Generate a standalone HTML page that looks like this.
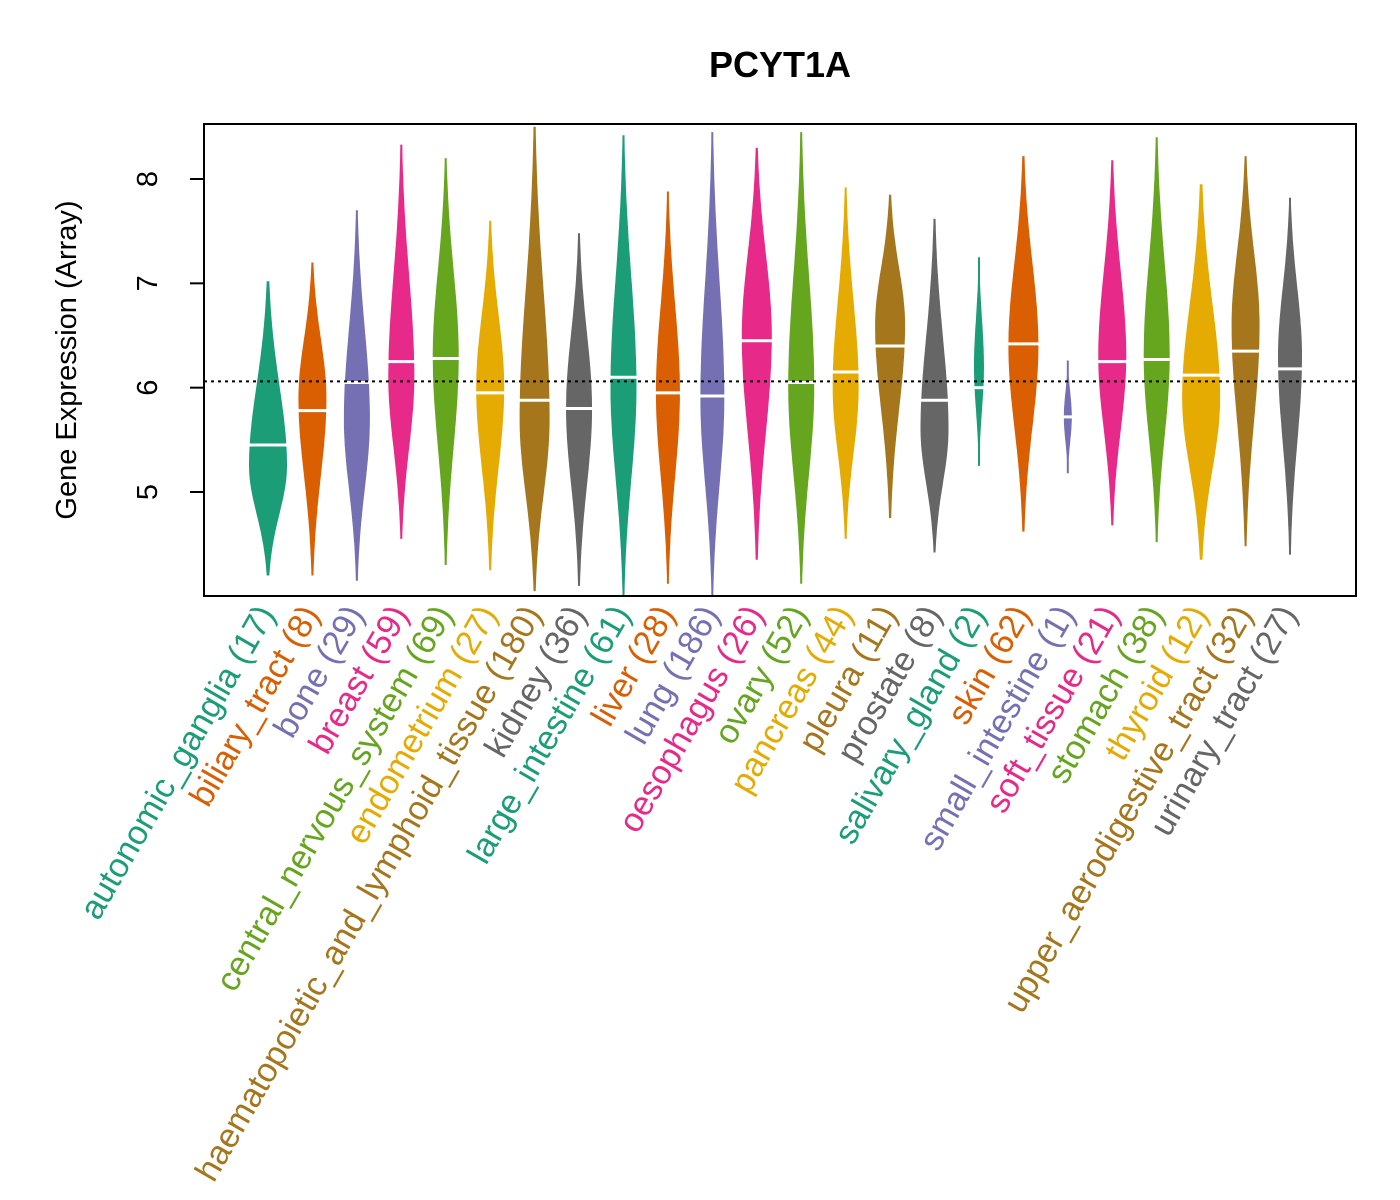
<!DOCTYPE html>
<html><head><meta charset="utf-8"><style>body{margin:0;background:#fff}svg{display:block}</style></head>
<body>
<svg id="chart" width="1400" height="1200" font-family="Liberation Sans, Arial, sans-serif">
<rect width="1400" height="1200" fill="#fff"/>
<text x="780" y="77" text-anchor="middle" font-size="36" font-weight="bold">PCYT1A</text>
<text transform="translate(76,360) rotate(-90)" text-anchor="middle" font-size="29">Gene Expression (Array)</text>
<g id="violins"></g>
<rect x="204" y="124" width="1152" height="472" fill="none" stroke="#000" stroke-width="2"/>
<g id="axis"></g>
<g id="labels"></g>
</svg>
<script>
const categories=["autonomic_ganglia","biliary_tract","bone","breast","central_nervous_system","endometrium","haematopoietic_and_lymphoid_tissue","kidney","large_intestine","liver","lung","oesophagus","ovary","pancreas","pleura","prostate","salivary_gland","skin","small_intestine","soft_tissue","stomach","thyroid","upper_aerodigestive_tract","urinary_tract"];
const counts=[17,8,29,59,69,27,180,36,61,28,186,26,52,44,11,8,2,62,1,21,38,12,32,27];
const mins=[4.2,4.2,4.15,4.55,4.3,4.25,4.05,4.1,4.0,4.12,4.0,4.35,4.12,4.55,4.75,4.42,5.25,4.62,5.18,4.68,4.52,4.35,4.48,4.4];
const maxs=[7.02,7.2,7.7,8.33,8.2,7.6,8.5,7.48,8.42,7.88,8.45,8.3,8.45,7.92,7.85,7.62,7.25,8.22,6.26,8.18,8.4,7.95,8.22,7.82];
const medians=[5.45,5.78,6.05,6.25,6.28,5.95,5.88,5.8,6.1,5.95,5.92,6.45,6.05,6.15,6.4,5.88,6.0,6.42,5.72,6.25,6.27,6.12,6.35,6.18];
const modes=[5.25,5.9,5.7,6.1,6.3,6.0,5.7,5.8,6.0,5.95,5.9,6.5,6.0,6.0,6.6,5.6,6.2,6.4,5.72,6.3,6.3,5.9,6.6,6.3];
const halfWidths=[19,14,13,13,13,14,15,13,13,12,12,15,13,13,15,14,5,15,4,14,13,19,14,12];
const yTicks=[5,6,7,8];
const overallMedian=6.06;
const colors=["#1B9E77","#D95F02","#7570B3","#E7298A","#66A61E","#E6AB02","#A6761D","#666666"];
const NS="http://www.w3.org/2000/svg";
const yS=v=>492-(v-5)*104.33;
const xS=i=>268+i*(1290-268)/23;
function mk(t,a,p){const e=document.createElementNS(NS,t);for(const k in a)e.setAttribute(k,a[k]);p.appendChild(e);return e;}
const gv=document.getElementById('violins'),ga=document.getElementById('axis'),gl=document.getElementById('labels');
categories.forEach((c,i)=>{
  const x=xS(i),col=colors[i%8],lo=mins[i],hi=maxs[i],m=modes[i],hw=halfWidths[i];
  const sl=Math.max((m-lo)/2.3,0.05),sh=Math.max((hi-m)/2.3,0.05);
  const pts=[],N=60;
  for(let k=0;k<=N;k++){const v=lo+(hi-lo)*k/N;const s=v<m?sl:sh;const w=Math.max(hw*Math.exp(-0.5*((v-m)/s)**2),1);pts.push([v,w]);}
  let d='M'+pts.map(p=>(x+p[1]).toFixed(1)+','+yS(p[0]).toFixed(1)).join('L');
  d+='L'+pts.slice().reverse().map(p=>(x-p[1]).toFixed(1)+','+yS(p[0]).toFixed(1)).join('L')+'Z';
  const v=mk('path',{d:d,fill:col},gv);
  
  
  const md=mk('line',{x1:x-hw-2,x2:x+hw+2,y1:yS(medians[i]),y2:yS(medians[i]),stroke:'#fff','stroke-width':3},gv);
  
  
  const t=mk('text',{transform:`translate(${x+8},614) rotate(-60)`,'text-anchor':'end','font-size':34,fill:col},gl);
  t.textContent=c+' ('+counts[i]+')';
  
  
});
const ref=mk('line',{x1:204,x2:1356,y1:yS(overallMedian),y2:yS(overallMedian),stroke:'#000','stroke-width':2,'stroke-dasharray':'3,4'},gv);


yTicks.forEach(v=>{
  const l=mk('line',{x1:190,x2:204,y1:yS(v),y2:yS(v),stroke:'#000','stroke-width':2},ga);
  
  
  const t=mk('text',{transform:`translate(157,${yS(v)}) rotate(-90)`,'text-anchor':'middle','font-size':29},ga);
  t.textContent=v;
  
  
});
</script>
</body></html>
